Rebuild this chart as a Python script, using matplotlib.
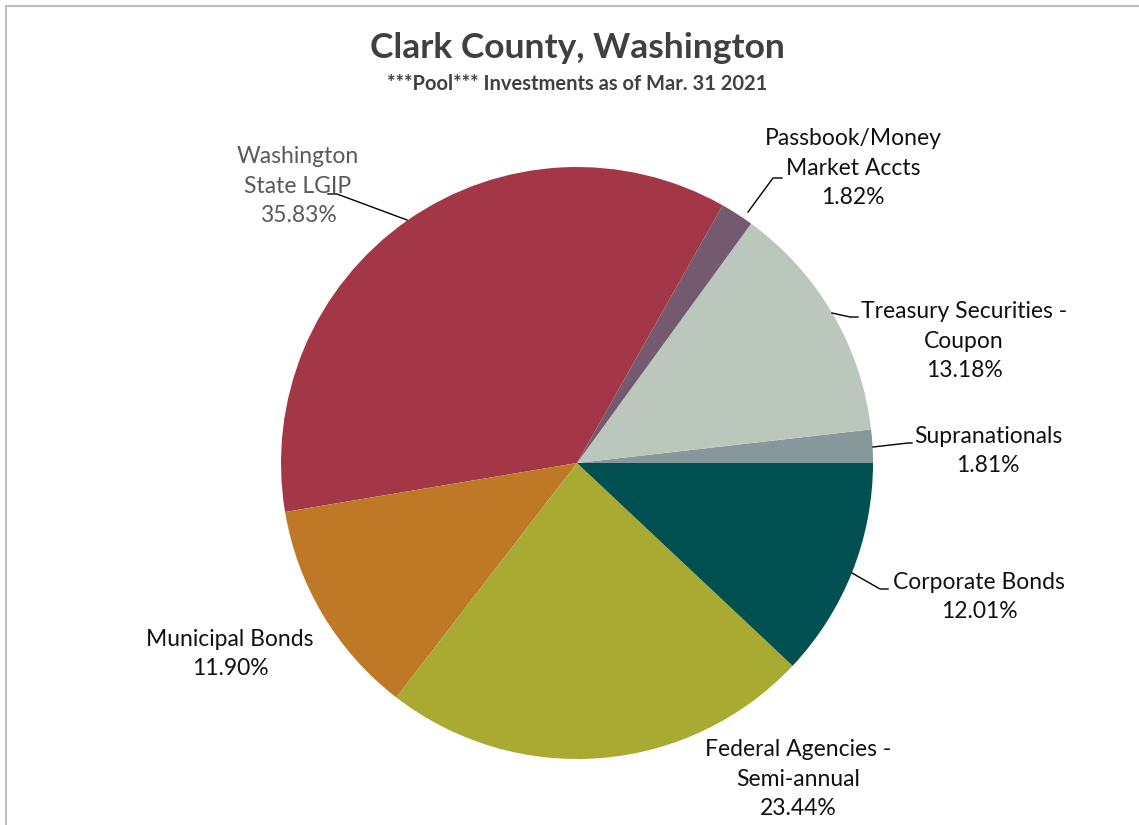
import matplotlib.pyplot as plt
from matplotlib.lines import Line2D

# data, counter-clockwise from 3 o'clock
labels = ["Supranationals", "Treasury Securities -\nCoupon", "Passbook/Money\nMarket Accts",
          "Washington\nState LGIP", "Municipal Bonds", "Federal Agencies -\nSemi-annual",
          "Corporate Bonds"]
shares = [1.81, 13.18, 1.82, 35.83, 11.90, 23.44, 12.01]
colors = ["#869899", "#BBC7BD", "#735A6E", "#A33747", "#BE7826", "#A8AA32", "#004F51"]

W, H = 1139, 825
cx, cy, r = 577, 463, 296

plt.rcParams['font.family'] = ['Lato', 'DejaVu Sans']
fig = plt.figure(figsize=(W / 100, H / 100), dpi=100)
ax = fig.add_axes([(cx - r) / W, 1 - (cy + r) / H, 2 * r / W, 2 * r / H])
ax.pie(shares, colors=colors, startangle=0, counterclock=True, radius=1.0,
       wedgeprops=dict(linewidth=0))
ax.set_xlim(-1, 1)
ax.set_ylim(-1, 1)
ax.set_aspect('equal')
ax.axis('off')


def to_data(px, py):
    return (px - cx) / r, (cy - py) / r


# label centre positions (pixels) and leader lines
label_pos = [(988, 451), (964, 341), (853, 168), (298, 186), (230, 654), (798, 779), (979, 597)]
leaders = [
    [(873, 447), (908, 443), (912, 443)],
    [(832, 313), (850, 317), (858, 317)],
    [(748, 212), (773, 178), (782, 178)],
    [(407, 220), (337, 194), (328, 194)],
    None,
    None,
    [(852, 573), (880, 589), (888, 589)],
]

for lab, val, pos, ld in zip(labels, shares, label_pos, leaders):
    x, y = to_data(*pos)
    col = "#595959" if lab.startswith("Washington") else "#111111"
    ax.text(x, y, f"{lab}\n{val:.2f}%", ha='center', va='center', fontsize=16.5,
            color=col, linespacing=1.52, clip_on=False)
    if ld:
        xs, ys = zip(*[to_data(*p) for p in ld])
        ax.plot(xs, ys, color="black", lw=1, clip_on=False)

fig.text(0.5066, 1 - 48 / H, "Clark County, Washington", ha='center', va='center',
         fontsize=25.5, fontweight='bold', color="#404040")
fig.text(0.5066, 1 - 84 / H, "***Pool*** Investments as of Mar. 31 2021", ha='center',
         va='center', fontsize=14.5, fontweight='bold', color="#404040")

# chart border (top and left visible)
fig.add_artist(Line2D([5.5 / W, 1], [1 - 5.5 / H, 1 - 5.5 / H], color="#BFBFBF", lw=1.5))
fig.add_artist(Line2D([5.5 / W, 5.5 / W], [0, 1 - 5.5 / H], color="#BFBFBF", lw=1.5))

fig.savefig("out.png", dpi=100, facecolor="white")
